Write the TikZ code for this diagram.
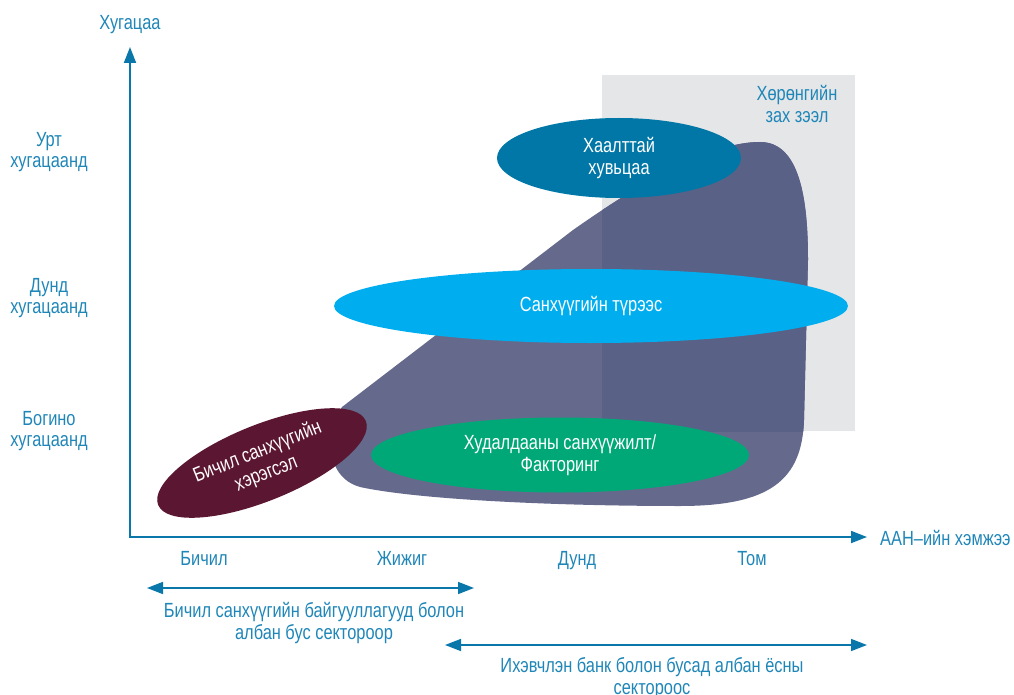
\documentclass[tikz,border=0pt]{standalone}
\usepackage{fontspec}
\setmainfont{Liberation Sans}[FakeStretch=0.8]
\usetikzlibrary{arrows.meta,shapes.geometric}
\definecolor{axisblue}{HTML}{0A77AB}
\definecolor{txtblue}{HTML}{1F86B8}
\definecolor{graybg}{HTML}{E5E6E8}
\definecolor{blobc}{HTML}{656A8C}
\definecolor{blobd}{HTML}{5A6186}
\definecolor{cteal}{HTML}{0077A6}
\definecolor{clight}{HTML}{00AEEF}
\definecolor{cgreen}{HTML}{00A878}
\definecolor{cmaroon}{HTML}{5B1631}
\newcommand\myblobpath{(342,407) -- (573,230)
  .. controls (640,183) and (710,142) .. (760,142)
  .. controls (800,142) and (808,200) .. (808,260)
  -- (804,420)
  .. controls (802,480) and (770,506) .. (680,506)
  .. controls (560,506) and (420,500) .. (360,487)
  .. controls (335,480) and (328,455) .. (333,435)
  .. controls (335,422) and (338,413) .. (342,407) -- cycle}
\begin{document}
\begin{tikzpicture}[x=1pt,y=-1pt,
  font=\fontsize{20.5}{21.5}\selectfont,
  lbl/.style={text=txtblue, align=center, inner sep=0pt},
  oval/.style={ellipse, inner sep=0pt, text=white, align=center},
  axisline/.style={draw=axisblue, line width=1.8pt},
  rangeline/.style={draw=axisblue, line width=1.6pt},
  onetip/.style={-{Triangle[length=16pt,width=12pt]}},
  twotip/.style={{Triangle[length=16pt,width=12pt]}-{Triangle[length=16pt,width=12pt]}}]
\useasboundingbox (0,0) rectangle (1014,695);

% gray market area and blob
\fill[graybg] (602,75) rectangle (855,431);
\fill[blobc] \myblobpath;
\begin{scope}
  \clip (602,75) rectangle (855,431);
  \fill[blobd] \myblobpath;
\end{scope}
\node[lbl] (mkt) at (797,104) {Хөрөнгийн\\зах зээл};

% ellipses
\node[oval, fill=cteal, minimum width=244pt, minimum height=80pt] (eq) at (619,158) {Хаалттай\\хувьцаа};
\node[oval, fill=clight, minimum width=514pt, minimum height=74pt] (lease) at (591,306) {Санхүүгийн түрээс};
\node[oval, fill=cgreen, minimum width=378pt, minimum height=75pt] (trade) at (560,455) {Худалдааны санхүүжилт/\\Факторинг};
\node[oval, fill=cmaroon, minimum width=224pt, minimum height=76pt, rotate=22, text=white!95!pink] (micro) at (262,463) {Бичил санхүүгийн\\[1.5pt]хэрэгсэл};

% axes
\coordinate (O) at (130,537);
\coordinate (ytip) at (130,47);
\coordinate (xtip) at (867,537);
\draw[axisline, onetip] (O) -- (ytip);
\draw[axisline, onetip] ([xshift=-0.9pt]O) -- (xtip);
\node[lbl, anchor=base] (ylab) at (130,30) {Хугацаа};
\node[lbl, anchor=base west] (xlab) at (880,545) {ААН–ийн хэмжээ};

% y labels
\node[lbl] (long) at (49,152) {Урт\\хугацаанд};
\node[lbl] (mid) at (49,298) {Дунд\\хугацаанд};
\node[lbl] (short) at (49,431) {Богино\\хугацаанд};

% x labels
\node[lbl, anchor=base] (xs1) at (204,565) {Бичил};
\node[lbl, anchor=base] (xs2) at (402,565) {Жижиг};
\node[lbl, anchor=base] (xs3) at (577,565) {Дунд};
\node[lbl, anchor=base] (xs4) at (752,565) {Том};

% ranges
\coordinate (r1a) at (147,588);
\coordinate (r1b) at (474,588);
\draw[rangeline, twotip] (r1a) -- (r1b);
\node[lbl] (r1t) at (314,623) {Бичил санхүүгийн байгууллагууд болон\\албан бус сектороор};
\coordinate (r2a) at (445,645);
\coordinate (r2b) at (867,645);
\draw[rangeline, twotip] (r2a) -- (r2b);
\node[lbl] (r2t) at (652,678) {Ихэвчлэн банк болон бусад албан ёсны\\сектороос};
\end{tikzpicture}
\end{document}
